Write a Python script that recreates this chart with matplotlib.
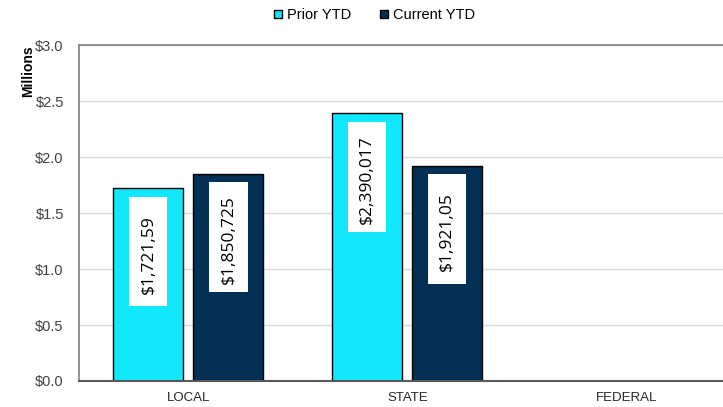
import matplotlib.pyplot as plt
import numpy as np
from matplotlib.patches import Rectangle
from matplotlib.transforms import Affine2D, ScaledTranslation

categories = ['LOCAL', 'STATE', 'FEDERAL']
prior_ytd = [1.72159, 2.390017, 0.0]
current_ytd = [1.850725, 1.92105, 0.0]
# labels as they show in the chart (some are cut off)
prior_labels = ['$1,721,59', '$2,390,017', '']
current_labels = ['$1,850,725', '$1,921,05', '']
yticks = [0.0, 0.5, 1.0, 1.5, 2.0, 2.5, 3.0]

cyan = '#12E8FC'
navy = '#022F54'

fig = plt.figure(figsize=(7.23, 4.07), dpi=100)
ax = fig.add_axes([0.1093, 0.0639, 0.908, 0.825])

x = np.arange(len(categories))
w = 0.32
off = 0.183
b1 = ax.bar(x - off, prior_ytd, w, color=cyan, edgecolor='black', linewidth=1, label='Prior YTD', zorder=3)
b2 = ax.bar(x + off, current_ytd, w, color=navy, edgecolor='black', linewidth=1, label='Current YTD', zorder=3)

# fixed size white label boxes (points), just under the bar top
box_w, box_h, box_gap = 27.5, 79, 6
for xs, vals, labs in [(x - off, prior_ytd, prior_labels), (x + off, current_ytd, current_labels)]:
    for xi, v, t in zip(xs, vals, labs):
        if not t:
            continue
        tr = Affine2D().scale(1 / 72.) + fig.dpi_scale_trans + ScaledTranslation(xi, v, ax.transData)
        ax.add_patch(Rectangle((-box_w / 2, -box_gap - box_h), box_w, box_h, transform=tr,
                               facecolor='white', edgecolor='none', zorder=4, clip_on=False))
        ax.annotate(t, (xi, v), xytext=(0, -box_gap - box_h / 2 - 2), textcoords='offset points',
                    rotation=90, ha='center', va='center', fontsize=12.5,
                    family='Open Sans', color='black', zorder=5)

ax.set_xlim(-0.5, 2.5)
ax.set_ylim(0, 3.0)
ax.set_yticks(yticks)
ax.set_yticklabels(['$%.1f' % v for v in yticks], family='Liberation Sans', fontsize=10.5, color='#404040')
ax.set_xticks(x)
ax.set_xticklabels(categories, family='Liberation Sans', fontsize=9.5, color='#262626')
ax.tick_params(axis='both', length=0)
ax.tick_params(axis='x', pad=8)
ax.tick_params(axis='y', pad=11)
ax.grid(axis='y', color='#d9d9d9', linewidth=1, zorder=0)

ax.spines['right'].set_visible(False)
ax.spines['top'].set_color('#808080')
ax.spines['left'].set_color('#808080')
ax.spines['bottom'].set_color('#595959')
ax.spines['top'].set_linewidth(1.2)
ax.spines['left'].set_linewidth(1.2)
ax.spines['bottom'].set_linewidth(1.5)
ax.spines['bottom'].set_zorder(6)

fig.text(0.039, 0.825, 'Millions', rotation=90, ha='center', va='center',
         family='Liberation Sans', fontweight='bold', fontsize=10)

fig.legend(handles=[b1, b2], loc='center', bbox_to_anchor=(0.518, 0.963), ncol=2,
           frameon=False, handlelength=0.55, handleheight=0.55, handletextpad=0.35,
           columnspacing=2.0, prop={'family': 'Liberation Sans', 'size': 10.5})

fig.savefig('out.png', dpi=100)
